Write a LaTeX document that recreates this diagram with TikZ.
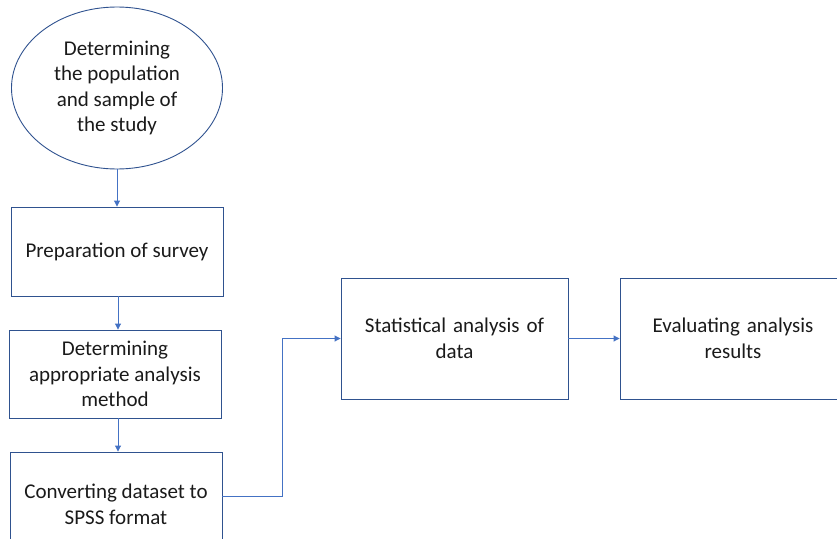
\documentclass[tikz,border=0pt]{standalone}
\usepackage{fontspec}
\setmainfont{Carlito}
\usetikzlibrary{arrows.meta,shapes.geometric}
\definecolor{boxblue}{HTML}{2F528F}
\definecolor{arrowblue}{HTML}{4472C4}
\definecolor{txt}{HTML}{1A1A1A}
\begin{document}
\begin{tikzpicture}[x=1pt,y=-1pt,
  every node/.style={font=\fontsize{21}{25.5}\selectfont, text=txt},
  stepbox/.style={draw=boxblue, line width=0.9pt, rectangle, inner sep=0pt, align=center},
  conn/.style={draw=arrowblue, line width=0.9pt, -{Triangle[length=6pt,width=6pt]}}]
\useasboundingbox (0,0) rectangle (837,538);
\clip (0,0) rectangle (837,538);
\node[draw=boxblue, line width=0.9pt, ellipse, minimum width=211pt, minimum height=162pt, inner sep=0pt, align=center] (e) at (117,88) {Determining\\the population\\and sample of\\the study};
\node[stepbox, minimum width=212pt, minimum height=89pt] (b1) at (117,251.5) {Preparation of survey};
\node[stepbox, minimum width=212pt, minimum height=88pt] (b2) at (115,374) {Determining\\appropriate analysis\\method};
\node[stepbox, minimum width=212pt, minimum height=105pt] (b3) at (116,504.5) {Converting dataset to\\SPSS format};
\node[stepbox, minimum width=227pt, minimum height=121pt, text width=220pt] (b4) at (454.5,338.5) {Statistical analysis of\\data};
\node[stepbox, minimum width=226pt, minimum height=121pt, text width=220pt] (b5) at (733,338.5) {Evaluating analysis\\results};
\draw[conn] (e.south) -- (e.south |- b1.north);
\draw[conn] (118,296) coordinate (a1) -- (a1 |- b2.north);
\draw[conn] (118,418) coordinate (a2) -- (a2 |- b3.north);
\coordinate (c1) at ([yshift=8.5pt]b3.east);
\draw[conn] (c1) -- (282,496) |- (b4.west);
\draw[conn] (b4.east) -- (b5.west);
\end{tikzpicture}
\end{document}
